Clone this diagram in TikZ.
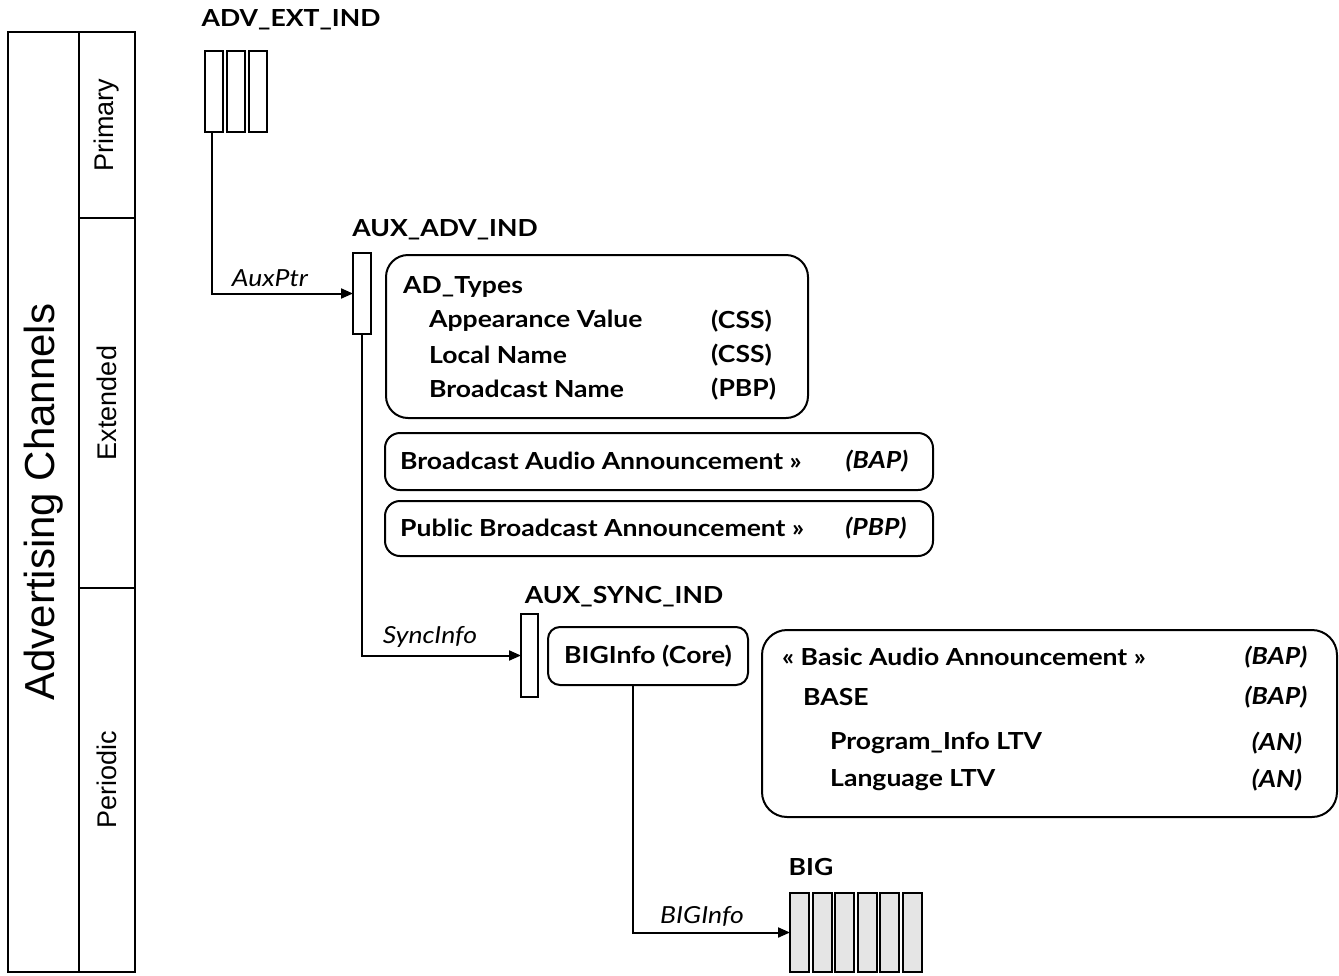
\documentclass[tikz,border=0pt]{standalone}
\usepackage{fontspec}
\setmainfont{Lato}[FakeStretch=1.13]
\newfontfamily\arialf{Liberation Sans}
\usetikzlibrary{arrows.meta}
\begin{document}
\begin{tikzpicture}[x=1pt,y=-1pt,
  lw/.style={line width=2pt},
  cell/.style={draw, lw, minimum width=17.5pt, minimum height=81pt, inner sep=0pt, outer sep=0pt},
  bigcell/.style={cell, fill=black!10, minimum width=19pt, minimum height=79pt},
  rbox/.style={draw, lw, inner sep=0pt, outer sep=0pt},
  ttl/.style={font=\fontsize{23.5}{27}\selectfont\bfseries, inner sep=0pt},
  lbl/.style={font=\fontsize{23.5}{27}\selectfont\itshape, inner sep=0pt},
  txt/.style={font=\fontsize{23.5}{27}\selectfont\bfseries, inner sep=0pt, anchor=west},
  tag/.style={font=\fontsize{23.5}{27}\selectfont\bfseries\itshape, inner sep=0pt},
  conn/.style={lw, -{Triangle[length=12pt,width=10pt]}},
  side/.style={draw, lw, inner sep=0pt, rotate=90, font=\arialf\fontsize{27}{30}\selectfont}
]
\useasboundingbox (0,0) rectangle (1339,975);

% left column
\node[side, minimum width=940pt, minimum height=71pt, font=\arialf\fontsize{42}{46}\selectfont] (chan) at (43.5,502) {Advertising Channels};
\node[side, minimum width=186pt, minimum height=56pt] (prim) at (107,125) {Primary};
\node[side, minimum width=370pt, minimum height=56pt] (ext) at (107,403) {Extended};
\node[side, minimum width=384pt, minimum height=56pt] (per) at (107,780) {Periodic};

% ADV_EXT_IND
\node[ttl] (advlbl) at (291,20) {ADV\_EXT\_IND};
\node[cell] (adv1) at (213.75,91.5) {};
\node[cell] (adv2) at (235.75,91.5) {};
\node[cell] (adv3) at (257.75,91.5) {};

% AUX_ADV_IND
\node[ttl] (auxadvlbl) at (445,230) {AUX\_ADV\_IND};
\node[cell, minimum width=18pt] (auxadv) at (362,293.5) {};

\node[rbox, rounded corners=22pt, minimum width=422pt, minimum height=163pt] (adtypes) at (597,336.5) {};
\node[txt] (adt0) at (403,287) {AD\_Types};
\node[txt] (adt1) at (429,321) {Appearance Value};
\node[txt] (adt2) at (429,355) {Local Name};
\node[txt] (adt3) at (429,389) {Broadcast Name};
\node[txt] (adt1t) at (711,321) {(CSS)};
\node[txt] (adt2t) at (711,355) {(CSS)};
\node[txt] (adt3t) at (711,389) {(PBP)};

\node[rbox, rounded corners=15pt, minimum width=548pt, minimum height=57pt] (baa) at (659,461.5) {};
\node[txt] (baat) at (400,461) {Broadcast Audio Announcement »};
\node[tag] (baatag) at (877,461) {(BAP)};

\node[rbox, rounded corners=15pt, minimum width=548pt, minimum height=55pt] (pba) at (659,528.5) {};
\node[txt] (pbat) at (400,528) {Public Broadcast Announcement »};
\node[tag] (pbatag) at (876,528) {(PBP)};

% AUX_SYNC_IND
\node[ttl] (auxsynclbl) at (624,597) {AUX\_SYNC\_IND};
\node[cell, minimum width=17pt, minimum height=83pt] (auxsync) at (529.5,655.5) {};
\node[rbox, rounded corners=12pt, minimum width=200pt, minimum height=58pt, font=\fontsize{23.5}{27}\selectfont\bfseries] (biginfo) at (648,656) {BIGInfo (Core)};

\node[rbox, rounded corners=25pt, minimum width=575pt, minimum height=187pt] (basic) at (1049.5,723.5) {};
\node[txt] (b1) at (782,657) {« Basic Audio Announcement »};
\node[txt] (b2) at (803,697) {BASE};
\node[txt] (b3) at (830,743) {Program\_Info LTV};
\node[txt] (b4) at (830,780) {Language LTV};
\node[tag] (b1t) at (1276,657) {(BAP)};
\node[tag] (b2t) at (1276,697) {(BAP)};
\node[tag] (b3t) at (1277,743) {(AN)};
\node[tag] (b4t) at (1277,780) {(AN)};

% BIG
\node[ttl] (biglbl) at (811,867) {BIG};
\foreach \i in {0,...,5} {
  \node[bigcell] (big\i) at (799.5+22.5*\i,932.5) {};
}

% connectors
\draw[conn] ([xshift=-1.75pt]adv1.south) |- (auxadv.west);
\node[lbl] (auxptr) at (270,278) {AuxPtr};
\draw[conn] (auxadv.south) |- (auxsync.west);
\node[lbl] (syncinfo) at (430,637) {SyncInfo};
\draw[conn] ([xshift=-15pt]biginfo.south) |- (big0.west);
\node[lbl] (biginfolbl) at (702,916) {BIGInfo};
\end{tikzpicture}
\end{document}
